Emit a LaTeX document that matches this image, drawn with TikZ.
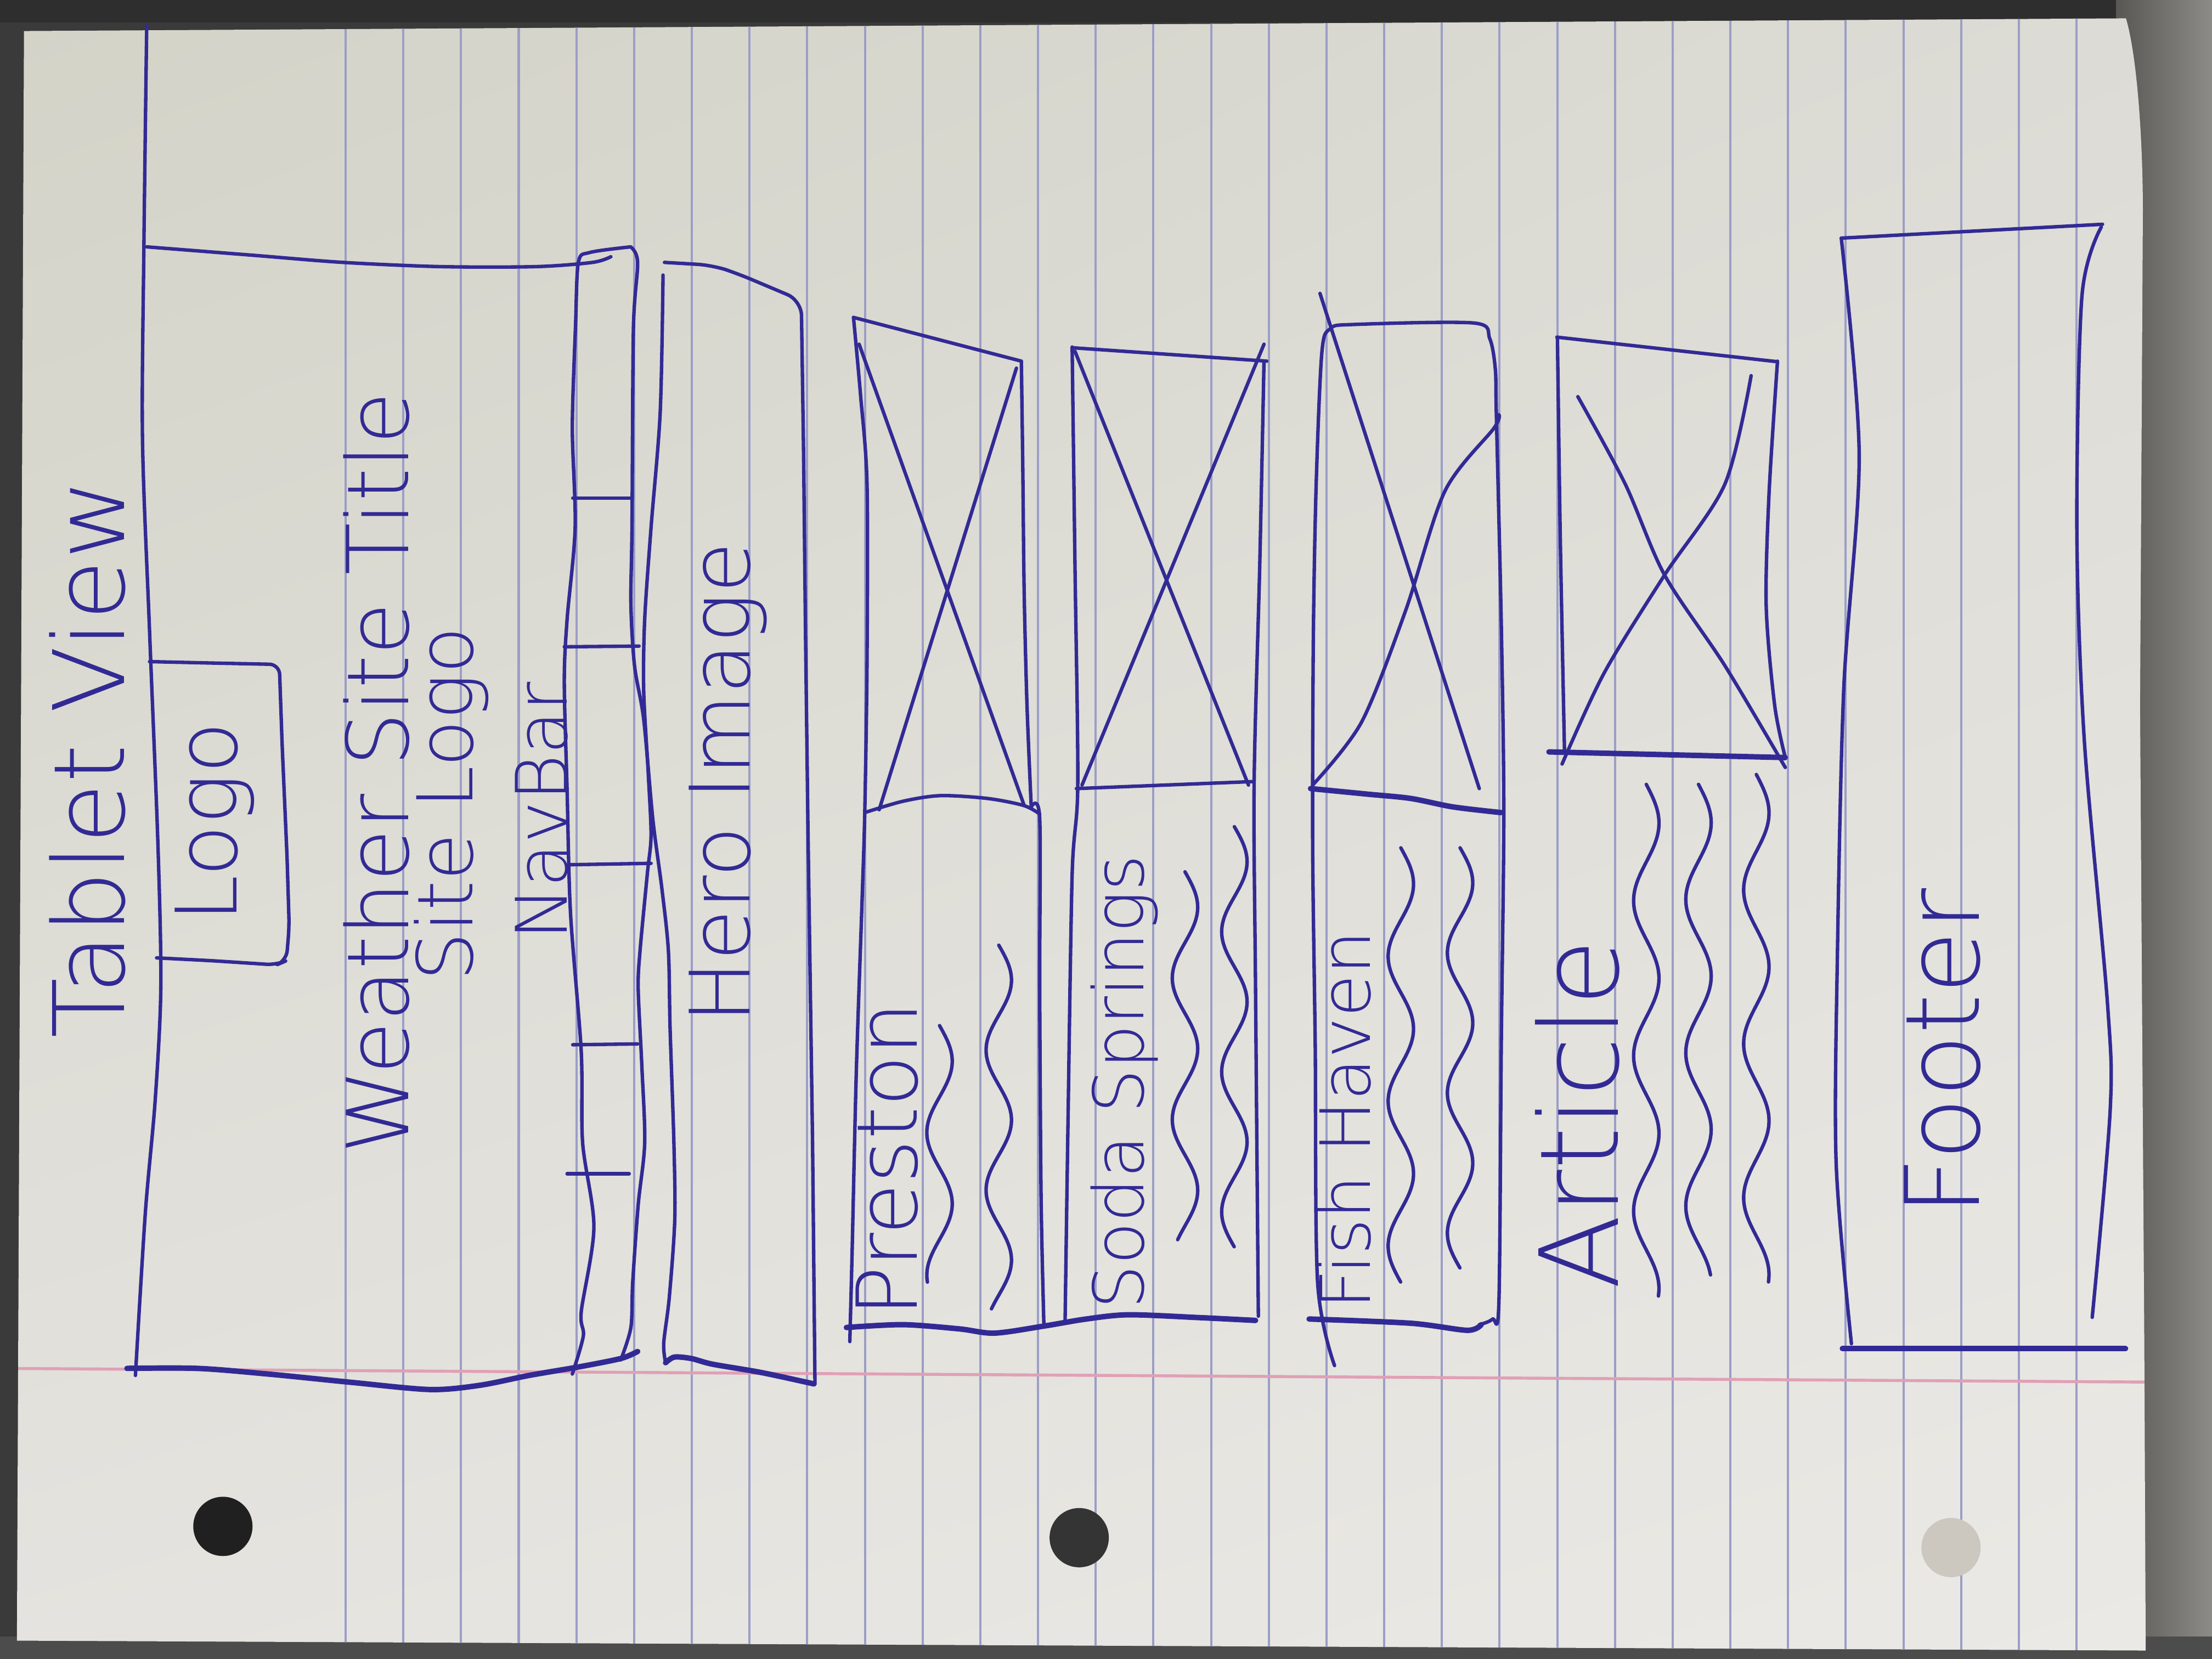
\documentclass[tikz,border=0pt]{standalone}
\usepackage{fontspec}
\usetikzlibrary{shadings}
\IfFontExistsTF{DejaVu Sans ExtraLight}
  {\newfontfamily\handfont{DejaVu Sans ExtraLight}}
  {\newfontfamily\handfont{DejaVu Sans}}
\definecolor{ink}{RGB}{50,42,148}
\definecolor{ruleblue}{RGB}{155,158,198}
\definecolor{marginred}{RGB}{224,160,182}
\definecolor{paperUL}{RGB}{212,211,200}
\definecolor{paperUR}{RGB}{220,219,213}
\definecolor{paperLL}{RGB}{228,227,223}
\definecolor{paperLR}{RGB}{234,233,229}
\definecolor{desk}{RGB}{58,58,58}
\definecolor{deskright}{RGB}{140,139,135}
\definecolor{deskshadow}{RGB}{88,87,84}
\definecolor{holedark}{RGB}{32,32,32}
\definecolor{holemid}{RGB}{52,52,52}
\definecolor{holelight}{RGB}{204,200,192}
% wavy placeholder line for body text: x, top y, bottom y, number of waves
\newcommand\squig[4]{%
  \draw[pen] plot[domain=0:1,samples=70,smooth]
    ({#1+9*sin(360*#4*\x)},{#2+(#3-#2)*\x});}
\begin{document}
\begin{tikzpicture}[x=0.01cm,y=-0.01cm,
  pen/.style={draw=ink,line width=0.7pt,line cap=round,line join=round},
  heavypen/.style={pen,line width=1.1pt},
  ruling/.style={draw=ruleblue,line width=0.45pt},
  hand/.style={text=ink,rotate=90,inner sep=0pt,font=\handfont}]
\useasboundingbox (0,0) rectangle (1568,1176);

% desk surface around the sheet
\fill[desk] (0,0) rectangle (1568,1176);
\fill[black!82] (0,0) rectangle (1568,16);
\shade[left color=deskshadow,right color=deskright] (1500,0) rectangle (1568,1176);
\fill[black!70] (0,1160) rectangle (1568,1176);

% the sheet of ruled paper
\shade[upper left=paperUL,upper right=paperUR,lower left=paperLL,lower right=paperLR]
  (17,22) -- (1507,13) .. controls (1515,40) and (1519,100) .. (1519,150)
  -- (1517,500) -- (1520,950) -- (1521,1170) -- (12,1163) -- cycle;
\begin{scope}
  \clip (17,22) -- (1507,13) .. controls (1515,40) and (1519,100) .. (1519,150)
    -- (1517,500) -- (1520,950) -- (1521,1170) -- (12,1163) -- cycle;
  \foreach \k in {0,...,30}
    \draw[ruling] ({245+40.9*\k},0) -- ({245+40.9*\k},1176);
  \draw[draw=marginred,line width=0.6pt] (0,970) -- (1568,980);
\end{scope}

% punched holes
\fill[holedark] (158,1082) circle (2.1mm);
\fill[holemid] (765,1090) circle (2.1mm);
\fill[holelight] (1383,1097) circle (2.1mm);

% ---------- header ----------
\draw[pen] plot[smooth] coordinates {(104,18) (102,175) (101,311) (106,447) (112,600) (114,700) (110,780) (103,860) (96,975)};
\draw[pen] plot[smooth] coordinates {(104,175) (180,181) (243,186) (312,189) (380,189) (420,186) (433,182)};
\draw[heavypen] plot[smooth] coordinates {(90,970) (140,970) (190,974) (250,980) (305,985) (340,982) (375,975) (410,969) (440,963) (452,958)};

% logo box
\draw[pen,rounded corners=2pt] (106,469) -- (150,470) -- (198,471) -- (200,528) -- (203.5,608) -- (205,657) -- (203,681) -- (196,684) -- (150,681) -- (111,679);

% ---------- navigation bar ----------
\draw[pen] plot[smooth] coordinates {(447,175) (418,179) (410,186) (408,230) (405.7,303) (407.7,374) (402,439) (400,483) (402,560) (404.4,647) (412,745) (413,810) (421,870) (412,930) (413.5,947) (405.7,974)};
\draw[pen] plot[smooth] coordinates {(447,175) (452,186) (449,233) (448,374) (447.2,428) (449.8,472) (456.3,510) (462.8,581) (469.2,630) (473.8,674) (475,729) (477.7,810) (478.3,865) (474.4,920) (470.5,952) (471.8,966)};
\draw[pen] (406,353) -- (448,353);
\draw[pen] (400,458.5) -- (453,458);
\draw[pen] (402.5,613) -- (461.5,612);
\draw[pen] (406,740.6) -- (452,740);
\draw[pen] (402,832) -- (446,832);

% ---------- hero image ----------
\draw[pen] plot[smooth] coordinates {(470,195) (468,292) (461.5,374) (457,439) (456.3,490) (459.5,548) (461.5,592) (458.9,619) (453.7,674) (452.4,701) (455,756) (457,810) (452.4,854) (448.5,909) (447.2,941) (440,964)};
\draw[pen,rounded corners=3pt] (471,186) -- (505,188) -- (523,194) -- (568,213) -- (569.6,319) -- (571,450) -- (572.8,592) -- (576,810) -- (577.7,981);
\draw[heavypen] plot[smooth] coordinates {(471.8,966) (478,962) (490,963) (505,967) (540,973) (577,981)};

% ---------- Preston card ----------
\draw[pen] (605,225) -- (724,256);
\draw[pen] plot[smooth] coordinates {(605,225) (610,280) (614.6,343) (614.6,470) (613,576) (611,641) (607,760) (604,889) (602.4,951)};
\draw[pen] plot[smooth] coordinates {(724,256) (725,330) (726,420) (728,500) (731,572)};
\draw[pen] plot[smooth] coordinates {(731,572) (737,580) (737,700) (738,850) (740,940)};
\draw[pen] plot[smooth] coordinates {(613,576) (640,568) (666.6,564) (700,566) (725.7,571) (737,577)};
\draw[pen] (609,244) -- (726,571);
\draw[pen] (720.5,261) -- (623.2,574);
\draw[heavypen] plot[smooth] coordinates {(600,941) (640,939) (680,942) (705,945) (740,940) (770,935) (800,932) (850,934) (890,936)};
\squig{666}{727}{909}{1.8}
\squig{708}{670}{928}{2.6}

% ---------- Soda Springs card ----------
\draw[pen] (760,246.5) -- (898,256);
\draw[pen] plot[smooth] coordinates {(760,246) (762,400) (764,556) (760,620) (757,800) (755,937)};
\draw[pen] plot[smooth] coordinates {(896,256) (893,400) (889,556) (890,700) (892,933)};
\draw[pen] (763,559) -- (889,554);
\draw[pen] (762,249) -- (885,556.5);
\draw[pen] (896,244) -- (767,556.5);
\squig{840}{618}{879}{2.6}
\squig{875}{586}{884}{3}

% ---------- Fish Haven card ----------
\draw[pen] plot[smooth] coordinates {(946,968) (934,909) (932.3,740) (930.5,600) (931,450) (933,343) (937,250) (943,233) (960,230) (1045,229) (1056,240) (1060,262) (1060.7,293.6) (1064.2,442.4) (1066,576.3) (1064.2,740) (1062.5,923.5) (1058,935) (1048.6,939)};
\draw[heavypen] plot[smooth] coordinates {(928,935) (1000,938) (1040,943) (1050,939)};
\draw[heavypen] plot[smooth] coordinates {(929,559) (970,563) (1000,566) (1030,572) (1064,576)};
\draw[pen] (935.7,208) -- (1048.6,559);
\draw[pen] plot[smooth] coordinates {(930.5,556.5) (965.2,511.8) (996.5,432.5) (1024.2,348.2) (1059,303.5) (1062.5,294)};
\squig{993}{601}{909}{3}
\squig{1035}{601}{899}{3}

% ---------- article ----------
\draw[pen] (1103.6,239) -- (1259.9,256.4);
\draw[pen] plot[smooth] coordinates {(1260,256) (1254,350) (1252,430) (1258,500) (1265.5,537)};
\draw[pen] plot[smooth] coordinates {(1104,239) (1106,380) (1109,531.7)};
\draw[heavypen] (1098,533) -- (1265.5,537);
\draw[pen] plot[smooth] coordinates {(1118.5,281.2) (1152,343) (1180,407.7) (1222.8,472) (1265.5,544)};
\draw[pen] plot[smooth] coordinates {(1241.3,266.3) (1222.7,343.2) (1179.9,407.7) (1137.1,477.1) (1107.3,541.6)};
\squig{1167}{556}{919}{3.3}
\squig{1204}{556}{904}{3.2}
\squig{1245}{549}{909}{3.3}

% ---------- footer ----------
\draw[pen] (1305.2,168.8) -- (1490.4,159);
\draw[pen] plot[smooth] coordinates {(1305.2,168.8) (1317.9,322.5) (1307,487.5) (1302.5,675) (1301.6,825) (1312.4,952.5)};
\draw[heavypen] (1306,956) -- (1506.7,956);
\draw[pen] plot[smooth] coordinates {(1489.5,161) (1475.8,210) (1472.2,375) (1477.5,525) (1494,712.5) (1495.8,787.5) (1483.1,933.8)};

% ---------- handwritten labels ----------
\node[hand] (tabletview) at (62,538) {\resizebox{3.96cm}{!}{Tablet View}};
\node[hand] (logolabel) at (152,583) {\resizebox{1.42cm}{!}{Logo}};
\node[hand] (sitetitle) at (267,548) {\resizebox{5.40cm}{!}{Weather Site Title}};
\node[hand] (sitelogo) at (320,570) {\resizebox{2.51cm}{!}{Site Logo}};
\node[hand] (navbar) at (384,575) {\resizebox{1.83cm}{!}{NavBar}};
\node[hand] (hero) at (516,555) {\resizebox{3.41cm}{!}{Hero Image}};
\node[hand] (preston) at (629,822) {\resizebox{2.23cm}{!}{Preston}};
\node[hand] (soda) at (797,767) {\resizebox{3.22cm}{!}{Soda Springs}};
\node[hand] (fish) at (953,794) {\resizebox{2.68cm}{!}{Fish Haven}};
\node[hand] (article) at (1118,790) {\resizebox{2.48cm}{!}{Article}};
\node[hand] (footer) at (1377,746) {\resizebox{2.32cm}{!}{Footer}};
\end{tikzpicture}
\end{document}
